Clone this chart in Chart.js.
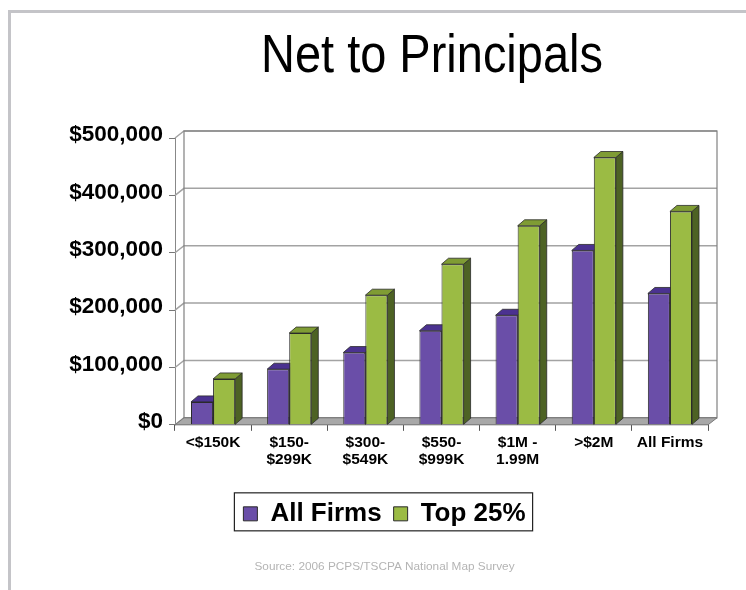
<!DOCTYPE html>
<html>
<head>
<meta charset="utf-8">
<script src="https://cdn.jsdelivr.net/npm/chart.js@4.4.1/dist/chart.umd.min.js"></script>
<style>
  html, body { margin: 0; padding: 0; background: #fff; }
  #wrap { position: relative; width: 746px; height: 590px; overflow: hidden; }
  #frame {
    position: absolute; left: 8px; top: 10px; width: 760px; height: 600px;
    border-top: 3px solid #c4c4c8; border-left: 3px solid #c4c4c8;
  }
  #title {
    position: absolute; left: 59px; top: 27px; width: 746px; text-align: center;
    font-family: "Liberation Sans", Arial, sans-serif; font-size: 53px; line-height: 53px;
    color: #000; transform: scaleX(0.886); transform-origin: 373px 0;
  }
  canvas { position: absolute; left: 0; top: 0; }
</style>
</head>
<body>
<div id="wrap">
  <div id="frame"></div>
  <div id="title">Net to Principals</div>
  <canvas id="chart" width="746" height="590"></canvas>
</div>
<script>
const categories = ["<$150K", ["$150-", "$299K"], ["$300-", "$549K"], ["$550-", "$999K"], ["$1M -", "1.99M"], ">$2M", "All Firms"];
const allFirms = [40000, 97000, 126000, 164000, 191000, 304000, 229000];
const top25 = [80000, 160000, 226000, 280000, 347000, 466000, 372000];
const seriesNames = ["All Firms", "Top 25%"];
const yTicks = [0, 100000, 200000, 300000, 400000, 500000];

const font = '"Liberation Sans", Arial, sans-serif';
const DX = 9, DY = 7;      // depth of the floor / back wall
const BX = 7, BY = 6;      // depth of each bar

const faces = [
  { top: '#4b3290', side: '#3a2670' },
  { top: '#7f9c34', side: '#4d6224' }
];

const wall3d = {
  id: 'wall3d',
  beforeDatasetsDraw(chart) {
    const ctx = chart.ctx;
    const a = chart.chartArea;
    const y = chart.scales.y;
    ctx.save();
    // left side wall diagonals + back wall gridlines
    ctx.strokeStyle = '#a3a3a3';
    ctx.lineWidth = 1.5;
    yTicks.forEach(v => {
      const py = y.getPixelForValue(v);
      ctx.beginPath();
      ctx.moveTo(a.left, py);
      ctx.lineTo(a.left + DX, py - DY);
      ctx.lineTo(a.right + DX, py - DY);
      ctx.stroke();
    });
    ctx.strokeStyle = '#808080';
    ctx.lineWidth = 1.2;
    ctx.strokeRect(a.left + DX, a.top - DY, a.right - a.left, a.bottom - a.top);
    // floor
    ctx.fillStyle = '#a8a8a8';
    ctx.strokeStyle = '#777';
    ctx.lineWidth = 1;
    ctx.beginPath();
    ctx.moveTo(a.left, a.bottom);
    ctx.lineTo(a.right, a.bottom);
    ctx.lineTo(a.right + DX, a.bottom - DY);
    ctx.lineTo(a.left + DX, a.bottom - DY);
    ctx.closePath();
    ctx.fill();
    ctx.stroke();
    // bar tops and sides
    ctx.strokeStyle = '#2a2a2a';
    ctx.lineWidth = 0.8;
    chart.data.datasets.forEach((ds, di) => {
      chart.getDatasetMeta(di).data.forEach(el => {
        const p = el.getProps(['x', 'y', 'base', 'width'], true);
        const l = p.x - p.width / 2, r = p.x + p.width / 2;
        ctx.fillStyle = faces[di].side;
        ctx.beginPath();
        ctx.moveTo(r, p.y);
        ctx.lineTo(r + BX, p.y - BY);
        ctx.lineTo(r + BX, p.base - BY);
        ctx.lineTo(r, p.base);
        ctx.closePath();
        ctx.fill();
        ctx.stroke();
        ctx.fillStyle = faces[di].top;
        ctx.beginPath();
        ctx.moveTo(l, p.y);
        ctx.lineTo(r, p.y);
        ctx.lineTo(r + BX, p.y - BY);
        ctx.lineTo(l + BX, p.y - BY);
        ctx.closePath();
        ctx.fill();
        ctx.stroke();
      });
    });
    ctx.restore();
  },
  afterDraw(chart) {
    // box around the legend
    const boxes = chart.legend.legendHitBoxes;
    if (!boxes || !boxes.length) return;
    const l = Math.min(...boxes.map(b => b.left));
    const r = Math.max(...boxes.map(b => b.left + b.width));
    const t = boxes[0].top;
    const h = boxes[0].height;
    const ctx = chart.ctx;
    ctx.save();
    ctx.strokeStyle = '#222';
    ctx.lineWidth = 1.2;
    ctx.strokeRect(l - 9, t + h / 2 - 21, r - l + 16, 38);
    ctx.restore();
  }
};

new Chart(document.getElementById('chart'), {
  type: 'bar',
  data: {
    labels: categories,
    datasets: [
      { label: seriesNames[0], data: allFirms, backgroundColor: '#6a4ea8', borderColor: '#2a2a2a', borderWidth: 1 },
      { label: seriesNames[1], data: top25, backgroundColor: '#9bbb44', borderColor: '#2a2a2a', borderWidth: 1 }
    ]
  },
  options: {
    responsive: false,
    animation: false,
    layout: { padding: { left: 61, right: 38, top: 138, bottom: 14 } },
    datasets: { bar: { categoryPercentage: 0.58, barPercentage: 1.0 } },
    scales: {
      x: {
        grid: { drawOnChartArea: false, drawTicks: true, tickLength: 6, color: '#555', offset: true },
        border: { display: true, color: '#888' },
        ticks: { color: '#000', font: { family: font, size: 15.5, weight: 'bold', lineHeight: 1.1 }, padding: 3, maxRotation: 0, autoSkip: false },
        afterFit: s => { s.height = 64; }
      },
      y: {
        min: 0, max: 500000,
        grid: { drawOnChartArea: false, drawTicks: true, tickLength: 6, color: '#777' },
        border: { display: true, color: '#888' },
        ticks: {
          stepSize: 100000, color: '#000', padding: 6, labelOffset: -3,
          font: { family: font, size: 22.5, weight: 'bold' },
          callback: v => '$' + Number(v).toLocaleString('en-US')
        },
        afterFit: s => { s.width = 114; }
      }
    },
    plugins: {
      legend: {
        position: 'bottom',
        labels: { boxWidth: 14, boxHeight: 14, padding: 12, color: '#000', font: { family: font, size: 26, weight: 'bold' } }
      },
      subtitle: {
        display: true, position: 'bottom', text: 'Source: 2006 PCPS/TSCPA National Map Survey',
        color: '#b4b4b4', font: { family: font, size: 11.8, weight: 'normal' }, padding: { top: 23, bottom: 2 }
      },
      tooltip: { enabled: false }
    }
  },
  plugins: [wall3d]
});
</script>
</body>
</html>
